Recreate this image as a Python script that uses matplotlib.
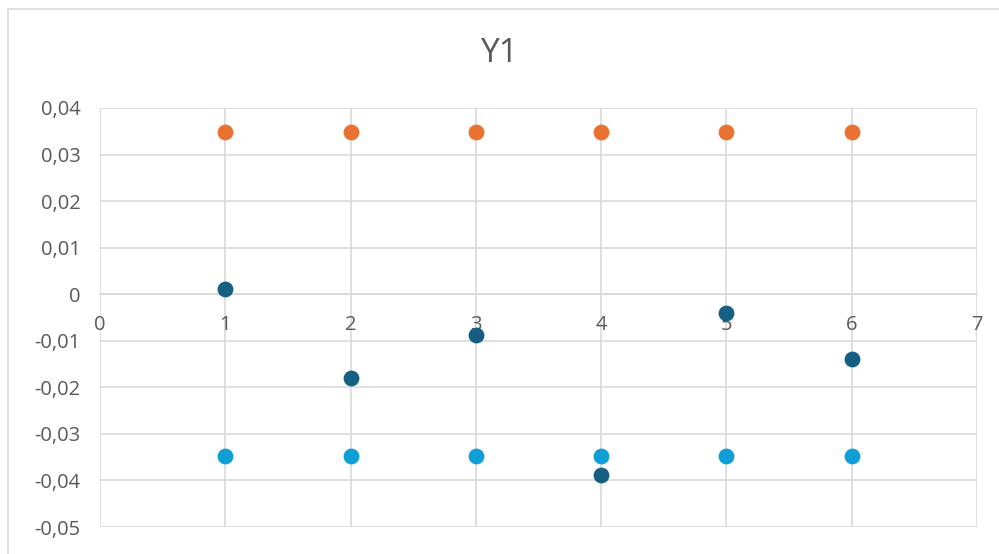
import numpy as np
import matplotlib.pyplot as plt
from matplotlib.patches import Rectangle
from matplotlib.ticker import FuncFormatter, MultipleLocator

# data
x = [1, 2, 3, 4, 5, 6]
y_dark = [0.0011, -0.0180, -0.0088, -0.0388, -0.0041, -0.0139]
y_upper = [0.0348, 0.0348, 0.0348, 0.0348, 0.0348, 0.0348]
y_lower = [-0.0348, -0.0348, -0.0348, -0.0348, -0.0348, -0.0348]

plt.rcParams['font.family'] = ['Open Sans', 'DejaVu Sans']

W, H = 999, 554
fig = plt.figure(figsize=(W / 100, H / 100), dpi=100)
fig.patches.append(Rectangle((8 / W, -0.1), 1.2, 1 - 9 / H + 0.1,
                             transform=fig.transFigure, fill=False,
                             edgecolor='#D9D9D9', linewidth=1.2))

ax = fig.add_axes([100 / W, 1 - 527 / H, 877 / W, 419 / H])

ax.scatter(x, y_upper, s=130, color='#E97132', zorder=3, linewidths=0)
ax.scatter(x, y_lower, s=130, color='#0F9ED5', zorder=3, linewidths=0)
ax.scatter(x, y_dark, s=130, color='#156082', zorder=4, linewidths=0)

ax.set_xlim(0, 7)
ax.set_ylim(-0.05, 0.04)
ax.xaxis.set_major_locator(MultipleLocator(1))
ax.yaxis.set_major_locator(MultipleLocator(0.01))

def comma(v, pos):
    if abs(v) < 1e-9:
        return '0'
    return ('%.2f' % v).replace('.', ',')

ax.yaxis.set_major_formatter(FuncFormatter(comma))
ax.xaxis.set_major_formatter(FuncFormatter(lambda v, p: '%d' % round(v)))

ax.grid(True, color='#D9D9D9', linewidth=1.2)
ax.set_axisbelow(True)
for side in ['top', 'right', 'left']:
    ax.spines[side].set_visible(False)
ax.spines['bottom'].set_position(('data', 0))
ax.spines['bottom'].set_color('#D9D9D9')
ax.spines['bottom'].set_linewidth(1.2)

ax.tick_params(axis='both', length=0, labelsize=14.5, labelcolor='#595959')
ax.tick_params(axis='y', pad=14)
ax.tick_params(axis='x', pad=15)

fig.suptitle('Y1', y=1 - 53 / H, va='center', fontsize=24, color='#595959')

fig.savefig('out.png', dpi=100)
